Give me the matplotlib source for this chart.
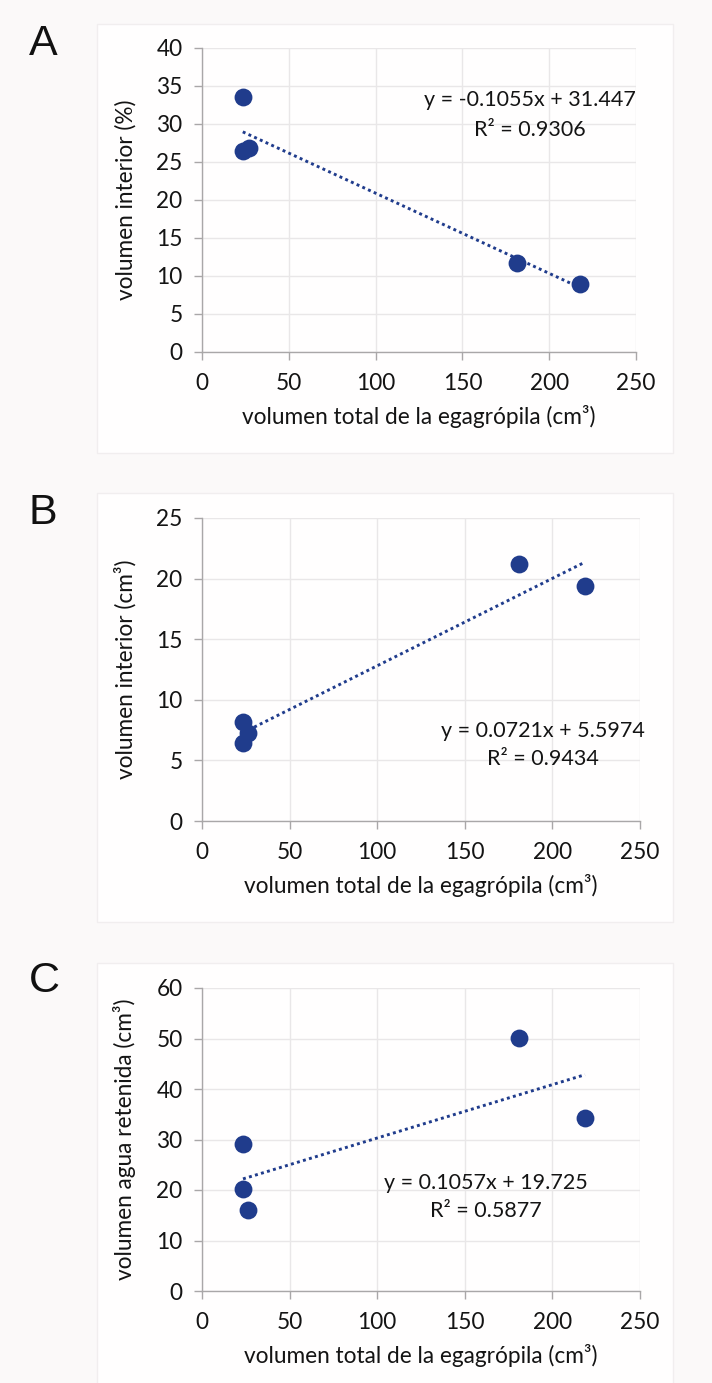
import numpy as np
import matplotlib
matplotlib.use("Agg")
import matplotlib.pyplot as plt
from matplotlib.patches import Rectangle

plt.rcParams["font.family"] = ["Lato", "DejaVu Sans"]

# ── data ─────────────────────────────────────────────────────────────────────
x_a = [23.6, 23.5, 26.8, 181.2, 218.0]
y_a = [33.5, 26.4, 26.8, 11.7, 9.0]

x_b = [23.4, 23.4, 26.5, 181.2, 218.6]
y_b = [8.2, 6.4, 7.3, 21.2, 19.4]

x_c = [23.4, 23.4, 26.5, 181.2, 218.6]
y_c = [29.2, 20.1, 16.1, 50.1, 34.2]

# trend lines as printed on the chart: slope, intercept, R²
fits = {
    "A": (-0.1055, 31.447, 0.9306),
    "B": (0.0721, 5.5974, 0.9434),
    "C": (0.1057, 19.725, 0.5877),
}

ylabels = {
    "A": "volumen interior (%)",
    "B": "volumen interior (cm³)",
    "C": "volumen agua retenida (cm³)",
}
xlabel = "volumen total de la egagrópila (cm³)"

NAVY = "#203C8C"
GRID = "#E9E7E8"
SPINE = "#A9A7A8"
TXT = "#141414"

fig = plt.figure(figsize=(7.12, 13.83), dpi=100, facecolor="#FBF9F9")
W, H = 712, 1383


def px_rect(x0, y0, x1, y1):
    return [x0 / W, 1 - y1 / H, (x1 - x0) / W, (y1 - y0) / H]


def panel(key, xs, ys, rect, box, ymax, ystep, eq_pos, letter_base):
    # light panel box behind the chart
    bx = px_rect(*box)
    fig.patches.append(Rectangle((bx[0], bx[1]), bx[2], bx[3], transform=fig.transFigure,
                                 facecolor="#FFFEFE", edgecolor="#F1EEEF", lw=1.0, zorder=-5))
    ax = fig.add_axes(px_rect(*rect))
    ax.set_facecolor("none")
    ax.set_xlim(0, 250)
    ax.set_ylim(0, ymax)
    ax.set_xticks(np.arange(0, 251, 50))
    ax.set_yticks(np.arange(0, ymax + 0.1, ystep))
    ax.grid(True, color=GRID, lw=1.0)
    ax.set_axisbelow(True)
    for s in ("top", "right"):
        ax.spines[s].set_visible(False)
    for s in ("left", "bottom"):
        ax.spines[s].set_color(SPINE)
        ax.spines[s].set_linewidth(1.0)
    ax.tick_params(axis="both", colors=SPINE, labelcolor=TXT, labelsize=16.3,
                   length=6, width=1.0)
    ax.tick_params(axis="y", pad=8)
    ax.tick_params(axis="x", pad=9)

    ax.scatter(xs, ys, s=165, color=NAVY, zorder=3, linewidths=0)

    m, b, r2 = fits[key]
    xl = np.array([min(xs), max(xs)])
    ax.plot(xl, m * xl + b, color=NAVY, lw=2.1, ls=(0, (1, 1.15)), zorder=2)

    ex, ey1, ey2 = eq_pos
    ax.text(ex, ey1, f"y = {m:.4f}x + {b:g}", ha="center", va="center",
            fontsize=15.5, color=TXT)
    ax.text(ex, ey2, f"R² = {r2:.4f}", ha="center", va="center",
            fontsize=15.5, color=TXT)

    ax.set_xlabel(xlabel, fontsize=16.3, color=TXT)
    ax.set_ylabel(ylabels[key], fontsize=16.3, color=TXT)
    ax.xaxis.set_label_coords(0.5, -0.175)
    ax.yaxis.set_label_coords(-0.15, 0.5)

    fig.text(29 / W, 1 - letter_base / H, key, ha="left", va="baseline",
             fontsize=31, family="Liberation Sans", color="#111111")
    return ax


panel("A", x_a, y_a, (202, 48, 636, 352), (97, 24, 673, 453), 40, 5,
      (189, 33.2, 29.2), 55)
panel("B", x_b, y_b, (202, 518, 640, 821), (97, 493, 673, 922), 25, 5,
      (194.7, 7.43, 5.09), 524)
panel("C", x_c, y_c, (202, 988, 640, 1291), (97, 963, 673, 1392), 60, 10,
      (162, 21.4, 15.8), 992)

fig.savefig("out.png", dpi=100, facecolor=fig.get_facecolor())
